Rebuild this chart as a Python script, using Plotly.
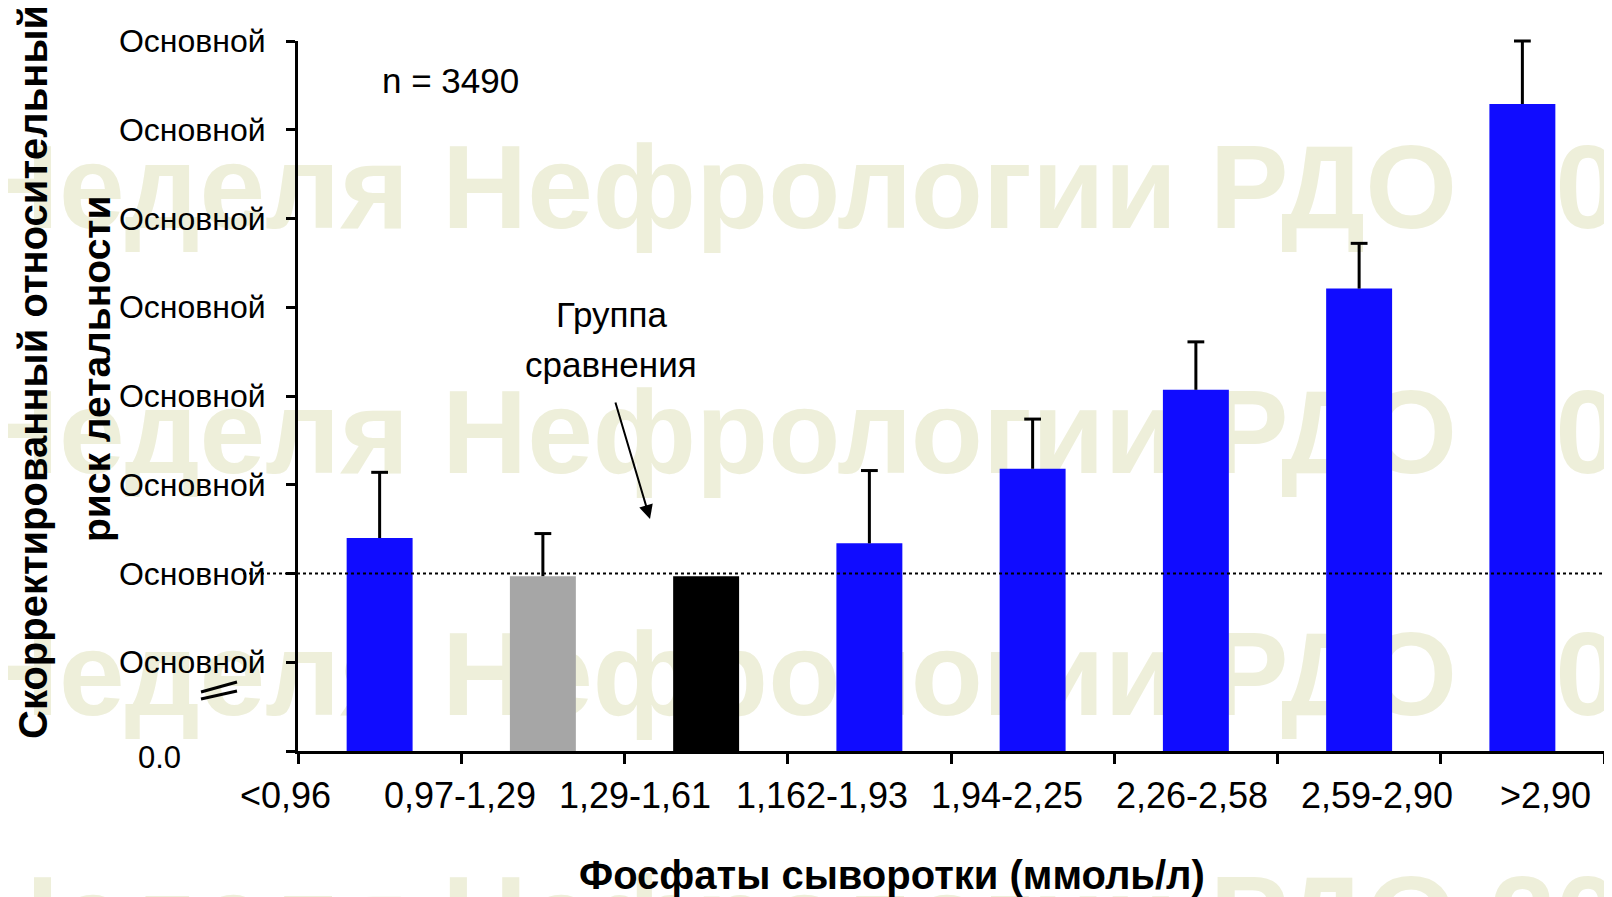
import plotly.graph_objects as go

# Serum phosphate groups and adjusted relative risk of death
groups = ['<0,96', '0,97-1,29', '1,29-1,61', '1,162-1,93', '1,94-2,25', '2,26-2,58', '2,59-2,90', '>2,90']
risk = [1.08, 0.994, 0.994, 1.068, 1.236, 1.414, 1.642, 2.058]
risk_upper = [1.228, 1.09, None, 1.232, 1.348, 1.522, 1.744, 2.2]
bar_colors = ['#100CFF', '#A6A6A6', '#000000', '#100CFF', '#100CFF', '#100CFF', '#100CFF', '#100CFF']

y_ticks = [0.6, 0.8, 1.0, 1.2, 1.4, 1.6, 1.8, 2.0, 2.2]
y_ticktext = [''] + ['Основной'] * 8
reference_level = 1.0

watermark_left = 'Неделя'
watermark_right = 'Нефрологии РДО 2010'

FONT = 'Liberation Sans, Arial, sans-serif'

# page is 1612x897, the figure div sits 8px in (body margin)
OFF = 8
W, H = 1612 - OFF, 897 - OFF
# plot area in page pixels
L, R, T, B = 298, 1604, 41, 751


def px(x):
    return (x - OFF) / W


def py(y):
    return 1 - (y - OFF) / H


fig = go.Figure()

# watermark on a full-page base subplot, drawn under the chart subplot
wm_y = [12, 198, 443, 685, 870]
wm_pos = ['top', 'middle', 'middle', 'middle', 'bottom']
wm_font = dict(family=FONT, size=118, color='#EEEFDA', weight='bold')
fig.add_trace(go.Scatter(x=[409] * len(wm_y), y=wm_y, mode='text', text=[watermark_left] * len(wm_y),
                         textposition=[p + ' left' for p in wm_pos], cliponaxis=False, hoverinfo='skip',
                         showlegend=False, textfont=wm_font, xaxis='x', yaxis='y'))
fig.add_trace(go.Scatter(x=[442] * len(wm_y), y=wm_y, mode='text', text=[watermark_right] * len(wm_y),
                         textposition=[p + ' right' for p in wm_pos], cliponaxis=False, hoverinfo='skip',
                         showlegend=False, textfont=wm_font, xaxis='x', yaxis='y'))

fig.add_trace(go.Bar(x=groups, y=risk, marker=dict(color=bar_colors, line=dict(width=0)),
                     xaxis='x2', yaxis='y2', showlegend=False))

# upper error bars
ex, ey, cx, cy = [], [], [], []
for g, v, u in zip(groups, risk, risk_upper):
    if u is None:
        continue
    ex += [g, g, None]
    ey += [v, u, None]
    cx.append(g)
    cy.append(u)
fig.add_trace(go.Scatter(x=ex, y=ey, mode='lines', line=dict(color='black', width=3),
                         xaxis='x2', yaxis='y2', cliponaxis=False, showlegend=False, hoverinfo='skip'))
fig.add_trace(go.Scatter(x=cx, y=cy, mode='markers',
                         marker=dict(symbol='line-ew', size=12, line=dict(color='black', width=3)),
                         xaxis='x2', yaxis='y2', cliponaxis=False, showlegend=False, hoverinfo='skip'))

fig.update_layout(
    width=W, height=H,
    margin=dict(l=0, r=0, t=0, b=0, autoexpand=False),
    paper_bgcolor='white', plot_bgcolor='rgba(0,0,0,0)',
    bargap=0.596,
    xaxis=dict(visible=False, range=[OFF, OFF + W], domain=[0, 1], fixedrange=True, automargin=False),
    yaxis=dict(visible=False, range=[OFF + H, OFF], domain=[0, 1], fixedrange=True, automargin=False),
    xaxis2=dict(anchor='y2', domain=[px(L), px(R)], type='category', range=[-0.5, 7.5],
                showline=True, linecolor='black', linewidth=3,
                ticks='outside', tickson='boundaries', ticklen=10, tickwidth=3, tickcolor='black',
                showticklabels=False, showgrid=False, zeroline=False, automargin=False),
    yaxis2=dict(anchor='x2', domain=[py(B), py(T)], side='left', range=[y_ticks[0], y_ticks[-1]],
                tickvals=y_ticks, ticktext=y_ticktext,
                showline=True, linecolor='black', linewidth=3,
                ticks='outside', ticklen=9, tickwidth=3, tickcolor='black', ticklabelstandoff=14,
                tickfont=dict(family=FONT, size=32, color='black'),
                showgrid=False, zeroline=False, automargin=False),
)

fig.add_shape(type='line', xref='paper', yref='y2', x0=px(243), x1=px(R), y0=reference_level, y1=reference_level,
              line=dict(color='black', width=2, dash='dot'), layer='above')

# axis break marks
for y0, y1 in [(692, 682), (699, 691)]:
    fig.add_shape(type='line', xref='paper', yref='paper', x0=px(201), x1=px(237), y0=py(y0), y1=py(y1),
                  line=dict(color='black', width=3))


def label(text, x, y, size, bold=False, angle=0):
    fig.add_annotation(text=text, xref='paper', yref='paper', x=px(x), y=py(y), showarrow=False,
                       xanchor='center', yanchor='middle', textangle=angle,
                       font=dict(family=FONT, size=size, color='black', weight='bold' if bold else 'normal'))


# x category labels
label_x = [285, 460, 635, 822, 1007, 1192, 1377, 1545]
for g, x in zip(groups, label_x):
    label(g, x, 795, 36)

label('0.0', 159, 757, 31)
label('Фосфаты сыворотки (ммоль/л)', 892, 875, 40, bold=True)
label('Скорректированный относительный', 33, 372, 40, bold=True, angle=-90)
label('риск летальности', 96, 369, 39, bold=True, angle=-90)
label('n = 3490', 451, 81, 35)
label('Группа', 611, 314, 35)
label('сравнения', 611, 365, 35)

fig.add_annotation(text='', xref='paper', yref='paper', x=px(650), y=py(519), ax=-35, ay=-118,
                   showarrow=True, arrowhead=2, arrowsize=1.4, arrowwidth=2, arrowcolor='black')

fig.write_html('out.html')
